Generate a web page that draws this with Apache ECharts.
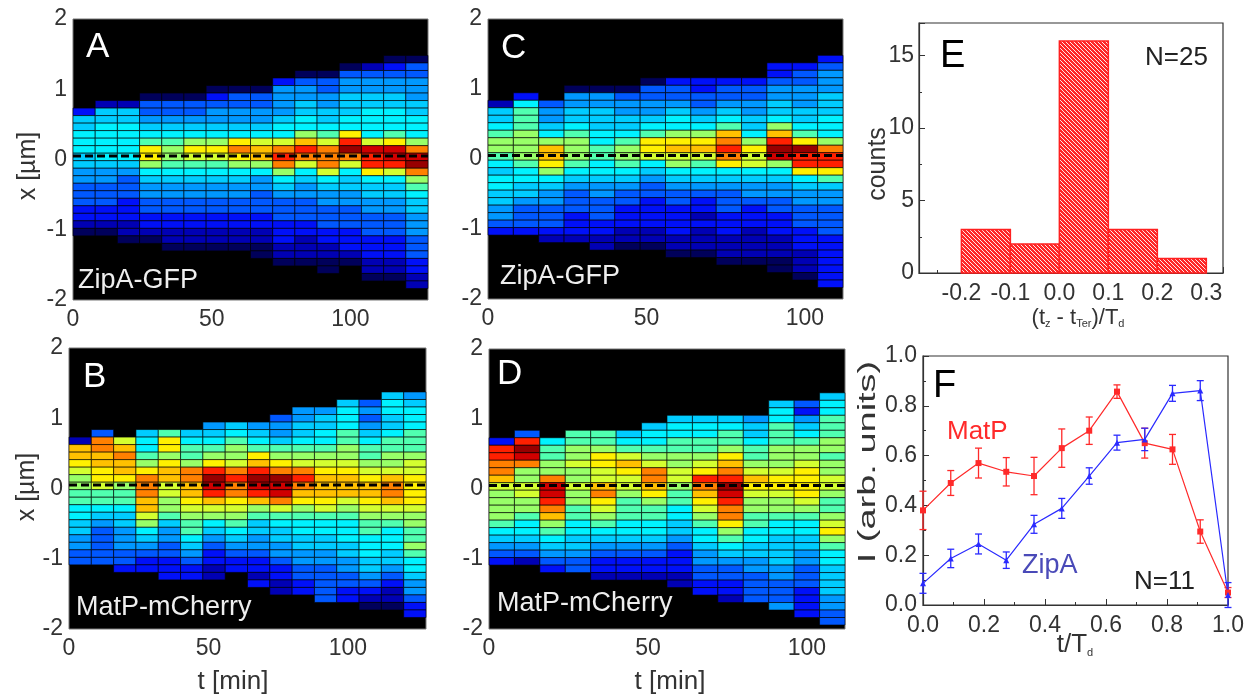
<!DOCTYPE html>
<html><head><meta charset="utf-8">
<script src="https://cdn.jsdelivr.net/npm/echarts@6/dist/echarts.min.js"></script>
<style>html,body{margin:0;padding:0;background:#fff}#c{width:1251px;height:698px}</style>
</head><body><div id="c"></div>
<script>
// ================= DATA =================
// time bins (min) of the kymograph columns
const timesAB = [0,8,16,24,32,40,48,56,64,72,80,88,96,104,112,120];
const timesCD = [0,8,16,24,32,40,48,56,64,72,80,88,96,104];
// index of the top cell boundary of each column (in cells above the reference boundary)
const A_top = [6,7,7,8,8,8,9,9,9,10,11,11,12,12,13,13];
const B_top = [6,7,6,7,7,7,8,8,8,9,10,10,11,11,12,12];
const C_top = [7,8,7,9,9,9,10,10,10,10,10,12,12,13];
const D_top = [6,7,6,7,7,7,8,9,9,9,9,11,11,12];
// intensity level of each cell, top to bottom (hex digit 0..f)
const A_cells = [
 "25566655443332210","155666665443332210","1556666654333222110","0334567aa86544332210",
 "033456788765443322110","0334568a9765443322110","02344568a9765443322110","0334456aca865443322110",
 "03344569bb8644333221100","244445669cdc8654333222110","034455668bdc96544333221110","0334455679ccc96544333221100",
 "034455566adfc96554433322210","13445566669edda65544333222110","02344556667aeed965544333222110","033444556668cefc876554443332211"];
const B_cells = [
 "1bba9887766554433","3ccbbaa97765433333","9bcbba877655444332","56678acccbb98654322",
 "7aa8abb9988754433222","56778ccbba9877654322","45678adfedb9865432211","567889cdcca987654322",
 "4567abdfedb87554432212","344578acfeec976554432211","44556789cdcba876655443322","45566789abbba9766554433333",
 "566677889abbb98766655443322","3434567789abba98776665543210","56655677889bccb98766655432110","45666777899aaaa988778766544322"];
const C_cells = [
 "155678876566554432","2677788887665543332","344568bba8654433321","044556788876543332221",
 "0445556677665443332211","0344556788765433222110","03344567aa9654332222110","23345668ab98654332222110",
 "22334568ab97654322121110","2334567bcdca6543332221110","233445568a996544322211110","223445568bdfe865443322211100",
 "2334445567afdda65443332221110","234445556668cdda754433332222222"];
const D_cells = [
 "2ddccb98888765432","3dfec8899887665431","67788ceedcb8765432","7788988988776655433",
 "778aa99bca9876543221","5679ba99877766543221","566789ccba87766543221","56677889987766554322211",
 "5667789adcba987665443322","56778abcdfedcca8765433221","45567789ba988776655443333","5667778889aa9887665555443334",
 "324567889aaaa9876655443332222","566777887889987789a876655554433"];
const dashY = 0.05;

// histogram E
const E_binStart = [-0.2,-0.1,0.0,0.1,0.2];
const E_binEnd   = [-0.1,0.0,0.1,0.2,0.3];
const E_counts   = [3,2,16,3,1];

// panel F
const F_t        = [0,0.091,0.182,0.273,0.364,0.455,0.545,0.636,0.727,0.818,0.909,1.0];
const F_matP     = [0.38,0.49,0.57,0.535,0.518,0.63,0.70,0.857,0.65,0.625,0.295,0.05];
const F_matPErr  = [0.077,0.05,0.06,0.057,0.075,0.077,0.055,0.027,0.06,0.06,0.047,0.02];
const F_zipA     = [0.087,0.187,0.245,0.18,0.324,0.388,0.518,0.652,0.665,0.85,0.861,0.04];
const F_zipAErr  = [0.04,0.037,0.04,0.033,0.036,0.04,0.033,0.03,0.045,0.032,0.04,0.05];

// ================= STYLE / GEOMETRY =================
const REF = 0.09, H = 0.107, BIN = 8;
const PALETTE = ['#00005a','#0000b4','#0010f8','#0058ff','#0098ff','#00ccff','#00f2ff','#50ffb0',
                 '#98ff68','#d4ff30','#fff000','#ffc000','#ff8000','#ff2000','#d00000','#980000'];
const FONT = "'Liberation Sans', Arial, sans-serif";
const TXT = '#333';

function buildCells(times, tops, cells){
  const out = [];
  cells.forEach((s, c) => {
    for (let i = 0; i < s.length; i++) {
      const yTop = REF + (tops[c] - i) * H;
      out.push([times[c], times[c] + BIN, yTop, yTop - H, parseInt(s[i], 16)]);
    }
  });
  return out;
}
function renderCell(params, api){
  const p0 = api.coord([api.value(0), api.value(2)]);
  const p1 = api.coord([api.value(1), api.value(3)]);
  return {type:'rect', shape:{x:p0[0], y:p0[1], width:p1[0]-p0[0], height:p1[1]-p0[1]},
    style:{fill: PALETTE[api.value(4)], stroke:'rgba(0,0,0,0.6)', lineWidth:1}};
}

// hatch pattern
const pc = document.createElement('canvas'); pc.width = 4; pc.height = 4;
const g = pc.getContext('2d');
g.fillStyle = '#ff2626'; g.fillRect(0,0,4,4);
g.strokeStyle = '#ffffff'; g.lineWidth = 0.9;
g.beginPath(); g.moveTo(-1,-1); g.lineTo(5,5); g.moveTo(-1,3); g.lineTo(1,5); g.moveTo(3,-1); g.lineTo(5,1); g.stroke();

const grids = [
  {left:73, top:19, width:355, height:281},
  {left:69, top:348, width:357, height:281},
  {left:488, top:19, width:355, height:280},
  {left:489, top:349, width:356, height:280},
  {left:919, top:23, width:304, height:250},
  {left:923, top:356, width:305, height:249}
].map((gr, i) => Object.assign(gr, i < 4
  ? {show:true, backgroundColor:'#000', borderColor:'#777', borderWidth:1}
  : {show:true, backgroundColor:'#fff', borderColor:'#333', borderWidth:1.2}));

const lbl = {fontFamily:FONT, fontSize:23, color:TXT};
const xAxes = [], yAxes = [];
[128,128,112,112].forEach((mx, i) => {
  xAxes.push({type:'value', gridIndex:i, min:0, max:mx, interval:50,
    axisLine:{show:false}, axisTick:{show:false}, splitLine:{show:false},
    axisLabel:Object.assign({margin:8, showMaxLabel:false}, lbl)});
  yAxes.push({type:'value', gridIndex:i, min:-2, max:2, interval:1,
    axisLine:{show:false}, axisTick:{show:false}, splitLine:{show:false},
    axisLabel:Object.assign({margin:6}, lbl)});
});
const boxAxis = {axisLine:{show:true, onZero:false, lineStyle:{color:'#333', width:1.2}},
  axisTick:{show:true, inside:true, length:6, lineStyle:{color:'#333'}},
  minorTick:{show:true, splitNumber:2, length:3, lineStyle:{color:'#333'}},
  splitLine:{show:false}};
xAxes.push(Object.assign({type:'value', gridIndex:4, min:-0.2865, max:0.334, splitNumber:6,
  axisLabel:Object.assign({margin:9, showMinLabel:false, showMaxLabel:false, formatter:v=>v.toFixed(1)}, lbl)}, boxAxis));
yAxes.push(Object.assign({type:'value', gridIndex:4, min:0, max:17.25, interval:5,
  axisLabel:Object.assign({margin:5, showMaxLabel:false}, lbl)}, boxAxis));
xAxes.push(Object.assign({type:'value', gridIndex:5, min:0, max:1, interval:0.2,
  axisLabel:Object.assign({margin:9, formatter:v=>v.toFixed(1)}, lbl)}, boxAxis));
yAxes.push(Object.assign({type:'value', gridIndex:5, min:0, max:1, interval:0.2,
  axisLabel:Object.assign({margin:6, formatter:v=>v.toFixed(1)}, lbl)}, boxAxis));

const series = [];
[[timesAB,A_top,A_cells,128],[timesAB,B_top,B_cells,128],[timesCD,C_top,C_cells,112],[timesCD,D_top,D_cells,112]]
.forEach(([t, tp, cl, mx], i) => {
  series.push({type:'custom', xAxisIndex:i, yAxisIndex:i, renderItem:renderCell,
    encode:{x:[0,1], y:[2,3]}, data:buildCells(t, tp, cl), z:2, silent:true});
  series.push({type:'line', xAxisIndex:i, yAxisIndex:i, data:[[0,dashY],[mx,dashY]], symbol:'none',
    lineStyle:{color:'#000', width:2.8, type:[8,4]}, z:3, silent:true});
});
// E histogram
series.push({type:'custom', xAxisIndex:4, yAxisIndex:4, encode:{x:[0,1], y:2},
  data:E_counts.map((c,i)=>[E_binStart[i], E_binEnd[i], c]),
  renderItem:(p, api)=>{
    const a = api.coord([api.value(0), api.value(2)]);
    const b = api.coord([api.value(1), 0]);
    return {type:'rect', shape:{x:a[0], y:a[1], width:b[0]-a[0], height:b[1]-a[1]},
      style:{fill:{image:pc, repeat:'repeat'}, stroke:'#ff2020', lineWidth:1.5}};
  }});
// F error bars + lines
function errSeries(vals, errs, color){
  return {type:'custom', xAxisIndex:5, yAxisIndex:5, encode:{x:0, y:[1,2]},
    data:vals.map((v,i)=>[F_t[i], v-errs[i], v+errs[i]]),
    renderItem:(p, api)=>{
      const lo = api.coord([api.value(0), api.value(1)]);
      const hi = api.coord([api.value(0), api.value(2)]);
      const w = 3.5, st = {stroke:color, lineWidth:1.3};
      return {type:'group', children:[
        {type:'line', shape:{x1:lo[0], y1:lo[1], x2:hi[0], y2:hi[1]}, style:st},
        {type:'line', shape:{x1:lo[0]-w, y1:lo[1], x2:lo[0]+w, y2:lo[1]}, style:st},
        {type:'line', shape:{x1:hi[0]-w, y1:hi[1], x2:hi[0]+w, y2:hi[1]}, style:st}]};
    }, z:3};
}
series.push(errSeries(F_matP, F_matPErr, '#ff2a2a'));
series.push(errSeries(F_zipA, F_zipAErr, '#2a2aff'));
series.push({type:'line', xAxisIndex:5, yAxisIndex:5, data:F_t.map((t,i)=>[t,F_matP[i]]),
  symbol:'rect', symbolSize:6, itemStyle:{color:'#ff2a2a'}, lineStyle:{color:'#ff2a2a', width:1.2}, z:4});
series.push({type:'line', xAxisIndex:5, yAxisIndex:5, data:F_t.map((t,i)=>[t,F_zipA[i]]),
  symbol:'triangle', symbolSize:6, itemStyle:{color:'#2a2aff'}, lineStyle:{color:'#2a2aff', width:1.2}, z:4});

function txt(text, x, y, size, color){
  return {type:'text', x:x, y:y, z:10,
    style:{text:text, fontSize:size, fontFamily:FONT, fill:color, align:'left', verticalAlign:'middle'}};
}
function vtxt(text, x, y, size, color){
  return {type:'text', x:x, y:y, rotation:Math.PI/2, z:10,
    style:{text:text, fontSize:size, fontFamily:FONT, fill:color, align:'center', verticalAlign:'middle'}};
}
function ctxt(text, x, y, size, rich){
  return {type:'text', x:x, y:y, z:10, style:{text:text, fontSize:size, fontFamily:FONT, fill:TXT,
    align:'center', verticalAlign:'middle', rich:rich||{}}};
}
const subRich = lh => ({s:{fontSize:11, fontFamily:FONT, fill:TXT, verticalAlign:'bottom', lineHeight:lh}});
const graphics = [
  txt('A', 86, 47, 35, '#fff'), txt('ZipA-GFP', 78, 281, 27, '#eee'),
  txt('B', 83, 377, 35, '#fff'), txt('MatP-mCherry', 76, 608, 27, '#eee'),
  txt('C', 501, 48, 35, '#fff'), txt('ZipA-GFP', 500, 277, 27, '#eee'),
  txt('D', 497, 374, 35, '#fff'), txt('MatP-mCherry', 497, 604, 27, '#eee'),
  vtxt('x [µm]', 28, 166, 25, TXT), vtxt('x [µm]', 27, 487, 25, TXT),
  ctxt('t [min]', 233, 682, 26), ctxt('t [min]', 670, 682, 26),
  txt('E', 940, 57, 38, '#000'), txt('N=25', 1145, 58, 26, '#222'),
  vtxt('counts', 878, 164, 25, TXT),
  ctxt('(t{s|z} - t{s|Ter})/T{s|d}', 1078, 318, 22, subRich(8)),
  txt('F', 933, 387, 38, '#000'),
  txt('MatP', 947, 432, 26, '#ff2a2a'), txt('ZipA', 1022, 566, 27, '#4a4ab8'), txt('N=11', 1134, 582, 26, '#222'),
  {type:'text', x:869, y:462, rotation:Math.PI/2, scaleX:1.65, z:10,
    style:{text:'I (arb. units)', fontSize:23, fontFamily:FONT, fill:TXT, align:'center', verticalAlign:'middle'}},
  ctxt('t/T{s|d}', 1075, 645, 26, subRich(6))
];

const chart = echarts.init(document.getElementById('c'), null, {renderer:'canvas'});
chart.setOption({animation:false, backgroundColor:'#fff', grid:grids, xAxis:xAxes, yAxis:yAxes, series:series, graphic:graphics});
</script></body></html>
